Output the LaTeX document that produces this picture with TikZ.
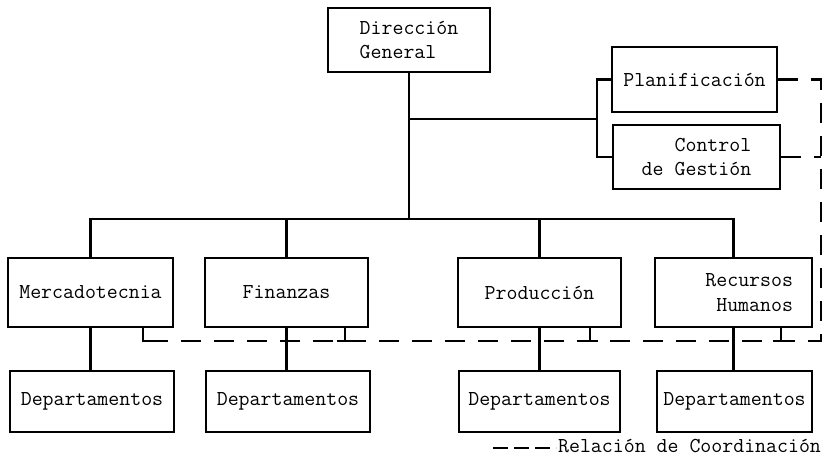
\documentclass[tikz,border=0pt]{standalone}
\usetikzlibrary{positioning}

\tikzset{
  unidad/.style={draw, line width=1.6pt, minimum width=3.26cm, minimum height=1.38cm,
    inner sep=2pt, font=\ttfamily\fontsize{12.1}{14}\selectfont},
  depto/.style={unidad, minimum height=1.22cm},
  linea/.style={line width=1.6pt},
  coord/.style={line width=1.6pt, dash pattern=on 0.4cm off 0.26cm}
}

\begin{document}
\begin{tikzpicture}
        \useasboundingbox (0,0) rectangle (16.5,9.18);

        % cabeza y staff
        \node[unidad, minimum width=3.24cm, minimum height=1.28cm, align=left] (dg) at (8.18, 8.38) {Dirección\\General};
        \node[unidad, minimum width=3.3cm, minimum height=1.3cm] (plan) at (13.89, 7.59) {Planificación};
        \node[unidad, minimum width=3.34cm, minimum height=1.28cm, align=right] (ctrl) at (13.93, 6.04) {Control\\de Gestión};

        % gerencias
        \node[unidad, minimum width=3.3cm] (merc) at (1.81, 3.33) {Mercadotecnia};
        \node[unidad] (fin) at (5.73, 3.33) {Finanzas};
        \node[unidad] (prod) at (10.79, 3.33) {Producción};
        \node[unidad, minimum width=3.14cm, text width=2.38cm, align=right] (rh) at (14.67, 3.33) {Recursos\\Humanos};

        % departamentos
        \node[depto, minimum width=3.28cm] (dep1) at (1.84, 1.15) {Departamentos};
        \node[depto, minimum width=3.28cm] (dep2) at (5.76, 1.15) {Departamentos};
        \node[depto, minimum width=3.22cm] (dep3) at (10.79, 1.15) {Departamentos};
        \node[depto, minimum width=3.1cm] (dep4) at (14.69, 1.15) {Departamentos};

        % puntos de paso
        \coordinate (bus) at (8.18, 4.8);
        \coordinate (rama) at (8.18, 6.8);
        \coordinate (llave) at (11.94, 6.8);
        \coordinate (borde) at (16.42, 2.36);
        \coordinate (fincoord) at (3.1, 2.36);
        \coordinate (tmerc) at (2.86, 2.36);
        \coordinate (tfin) at (6.9, 2.36);
        \coordinate (tprod) at (11.8, 2.36);
        \coordinate (trh) at (15.62, 2.36);

        % linea de mando
        \draw[linea] (dg.south) -- (bus);
        \draw[linea] (merc.north) |- (bus) -| (rh.north);
        \draw[linea] (fin.north) -- (fin.north |- bus);
        \draw[linea] (prod.north) -- (prod.north |- bus);
        \draw[linea] (rama) -- (llave);
        \draw[linea] (plan.west) -| (llave) |- (ctrl.west);
        \draw[linea] (merc.south) -- (merc.south |- dep1.north);
        \draw[linea] (fin.south) -- (fin.south |- dep2.north);
        \draw[linea] (prod.south) -- (dep3.north);
        \draw[linea] (rh.south) -- (rh.south |- dep4.north);

        % relacion de coordinacion
        \draw[coord] (plan.east) -- (plan.east -| borde) -- (borde) -- (fincoord);
        \draw[coord] (ctrl.east) -- (ctrl.east -| borde);
        \draw[linea] (merc.south -| tmerc) -- (tmerc) -- (fincoord);
        \draw[linea] (fin.south -| tfin) -- (tfin);
        \draw[linea] ([xshift=-0.16cm]tfin) -- ([xshift=0.16cm]tfin);
        \draw[linea] (prod.south -| tprod) -- (tprod);
        \draw[linea] ([xshift=-0.16cm]tprod) -- ([xshift=0.16cm]tprod);
        \draw[linea] (rh.south -| trh) -- (trh);
        \draw[linea] ([xshift=-0.16cm]trh) -- ([xshift=0.16cm]trh);

        % leyenda
        \coordinate (leya) at (9.86, 0.22);
        \node[anchor=west, inner sep=1pt, font=\ttfamily\fontsize{12.1}{14}\selectfont] (leyenda) at (11.12, 0.26) {Relación de Coordinación};
        \draw[line width=1.6pt, dash pattern=on 0.3cm off 0.12cm] (leya) -- (leya -| leyenda.west);
\end{tikzpicture}
\end{document}
